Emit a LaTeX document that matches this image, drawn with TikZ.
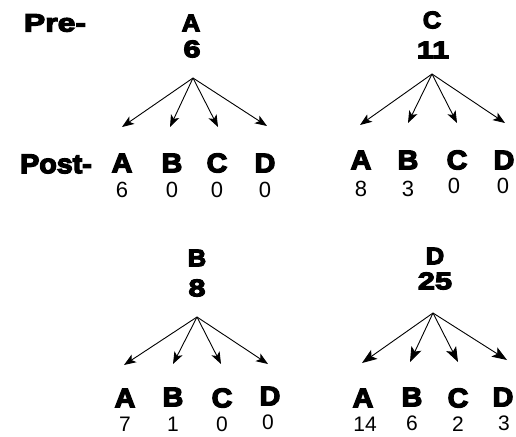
\documentclass[tikz,border=0pt]{standalone}
\usepackage{fontspec}
\setmainfont{Liberation Sans}
\newfontfamily\blk[FakeBold=5,FakeStretch=1.06]{Liberation Sans}
\newfontfamily\blkw[FakeBold=5,FakeStretch=1.28]{Liberation Sans}
\usetikzlibrary{arrows.meta}
\tikzset{
  hd/.style={font=\blk\bfseries\fontsize{24}{24}\selectfont, inner sep=0pt},
  hn/.style={font=\blkw\bfseries\fontsize{24}{24}\selectfont, inner sep=0pt},
  lt/.style={font=\blk\bfseries\fontsize{27}{27}\selectfont, inner sep=0pt},
  nm/.style={font=\fontsize{22}{22}\selectfont, inner sep=0pt},
  nms/.style={font=\fontsize{21}{21}\selectfont, inner sep=0pt},
  sidew/.style={font=\blkw\bfseries\fontsize{25}{25}\selectfont, inner sep=0pt},
  side/.style={font=\blk\bfseries\fontsize{27}{27}\selectfont, inner sep=0pt},
  arr/.style={line width=0.9pt, -{Stealth[length=12pt,width=9pt,inset=3pt]}},
  barr/.style={line width=0.9pt, -{Stealth[length=15pt,width=11pt,inset=3.5pt]}}
}
\begin{document}
\begin{tikzpicture}[x=1pt,y=-1pt]
\useasboundingbox (0,0) rectangle (516,436);
% side labels
\node[sidew] (pre) at (55,23) {Pre-};
\node[side] (post) at (56,164) {Post-};
% panel A
\node[hd] (aT) at (191,23) {A};
\node[hn] (aN) at (192,49) {6};
\coordinate (aO) at (193,78);
\coordinate (aT1) at (122,127);
\coordinate (aT2) at (170,127);
\coordinate (aT3) at (218,127);
\coordinate (aT4) at (267,126);
\foreach \t in {1,2,3,4} \draw[arr] (aO) -- (aT\t);
\node[lt] (aLA) at (122,163) {A};
\node[lt] (aLB) at (172,163) {B};
\node[lt] (aLC) at (217,163) {C};
\node[lt] (aLD) at (265,163) {D};
\node[nm] (aNA) at (122,190) {6};
\node[nm] (aNB) at (172,190) {0};
\node[nm] (aNC) at (217,190) {0};
\node[nm] (aND) at (265,190) {0};
% panel C
\node[hd] (cT) at (432,20) {C};
\node[hn] (cN) at (433,50) {11};
\coordinate (cO) at (432,74);
\coordinate (cT1) at (360,125);
\coordinate (cT2) at (408,123);
\coordinate (cT3) at (457,123);
\coordinate (cT4) at (505,123);
\foreach \t in {1,2,3,4} \draw[arr] (cO) -- (cT\t);
\node[lt] (cLA) at (361,160) {A};
\node[lt] (cLB) at (408,160) {B};
\node[lt] (cLC) at (457,160) {C};
\node[lt] (cLD) at (504,160) {D};
\node[nm] (cNA) at (361,189) {8};
\node[nm] (cNB) at (408,189) {3};
\node[nm] (cNC) at (454,186) {0};
\node[nm] (cND) at (503,186) {0};
% panel B
\node[hd] (bT) at (197,258) {B};
\node[hn] (bN) at (197,288) {8};
\coordinate (bO) at (197,317);
\coordinate (bT1) at (124,365);
\coordinate (bT2) at (173,364);
\coordinate (bT3) at (221,364);
\coordinate (bT4) at (268,364);
\foreach \t in {1,2,3,4} \draw[arr] (bO) -- (bT\t);
\node[lt] (bLA) at (125,398) {A};
\node[lt] (bLB) at (173,397) {B};
\node[lt] (bLC) at (222,398) {C};
\node[lt] (bLD) at (270,396) {D};
\node[nms] (bNA) at (125,424) {7};
\node[nms] (bNB) at (173,424) {1};
\node[nms] (bNC) at (222,424) {0};
\node[nms] (bND) at (268,422) {0};
% panel D
\node[hd] (dT) at (435,256) {D};
\node[hn] (dN) at (435,281) {25};
\coordinate (dO) at (433,313);
\coordinate (dT1) at (362,363);
\coordinate (dT2) at (410,362);
\coordinate (dT3) at (458,362);
\coordinate (dT4) at (507,360);
\foreach \t in {1,2,3,4} \draw[barr] (dO) -- (dT\t);
\node[lt] (dLA) at (363,398) {A};
\node[lt] (dLB) at (412,397) {B};
\node[lt] (dLC) at (458,398) {C};
\node[lt] (dLD) at (503,397) {D};
\node[nms] (dNA) at (365,424) {14};
\node[nms] (dNB) at (412,423) {6};
\node[nms] (dNC) at (458,424) {2};
\node[nms] (dND) at (504,423) {3};
\end{tikzpicture}
\end{document}
